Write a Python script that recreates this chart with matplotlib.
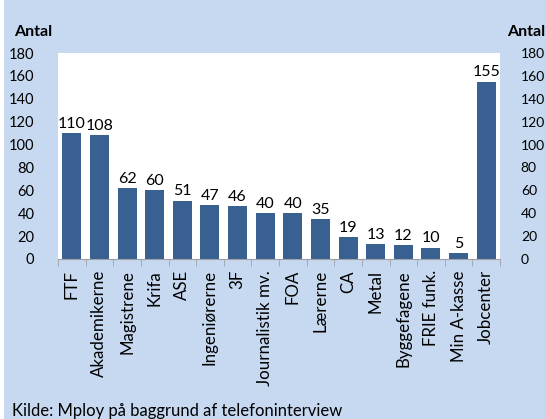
import matplotlib
matplotlib.use("Agg")
import matplotlib.pyplot as plt
from matplotlib.patches import Rectangle

categories = ["FTF", "Akademikerne", "Magistrene", "Krifa", "ASE", "Ingeniørerne", "3F",
              "Journalistik mv.", "FOA", "Lærerne", "CA", "Metal", "Byggefagene",
              "FRIE funk.", "Min A-kasse", "Jobcenter"]
values = [110, 108, 62, 60, 51, 47, 46, 40, 40, 35, 19, 13, 12, 10, 5, 155]
yticks = [0, 20, 40, 60, 80, 100, 120, 140, 160, 180]

BG = "#C6D9F0"
BAR = "#386192"
plt.rcParams['font.family'] = ['Lato', 'DejaVu Sans']

W, H = 545, 419
fig = plt.figure(figsize=(W / 100, H / 100), dpi=100, facecolor="white")
fig.patches.append(Rectangle((4 / W, 0), 1, 1, transform=fig.transFigure,
                             facecolor=BG, edgecolor="none", zorder=-10))

ax = fig.add_axes([58 / W, (H - 259) / H, (500 - 58) / W, (259 - 53) / H])
ax.set_facecolor("white")
x = list(range(len(categories)))
ax.bar(x, values, width=0.69, color=BAR, zorder=2)
for xi, v in zip(x, values):
    ax.text(xi, v + 2, str(v), ha="center", va="bottom", fontsize=11.5, color="black")

ax.set_xlim(-0.5, len(categories) - 0.5)
ax.set_ylim(0, 180)
ax.set_yticks(yticks)
ax.set_yticklabels([str(t) for t in yticks], fontsize=10.5)
ax.tick_params(axis="y", length=0, pad=17)
ax.set_xticks(x)
ax.set_xticklabels(categories, rotation=90, fontsize=12.2, va="top")
ax.tick_params(axis="x", length=0, pad=8)
# boundary ticks
ax.set_xticks([i - 0.5 for i in range(len(categories) + 1)], minor=True)
ax.tick_params(axis="x", which="minor", length=5, color="#A0A0A0", direction="out")
for s in ["top", "right", "left"]:
    ax.spines[s].set_visible(False)
ax.spines["bottom"].set_color("#A0A0A0")

ax2 = ax.twinx()
ax2.set_ylim(0, 180)
ax2.set_yticks(yticks)
ax2.set_yticklabels([str(t) for t in yticks], fontsize=10)
ax2.tick_params(axis="y", length=0, pad=15)
for s in ["top", "right", "left", "bottom"]:
    ax2.spines[s].set_visible(False)
for lab in ax2.get_yticklabels():
    lab.set_horizontalalignment("left")

fig.text(14 / W, (H - 32) / H, "Antal", fontsize=11.5, fontweight="bold", ha="left", va="center")
fig.text(545 / W, (H - 32) / H, "Antal", fontsize=11.5, fontweight="bold", ha="right", va="center")
fig.text(12 / W, 3 / H, "Kilde: Mploy på baggrund af telefoninterview", fontsize=12,
         ha="left", va="baseline")

fig.savefig("out.png", dpi=100, facecolor="white")
